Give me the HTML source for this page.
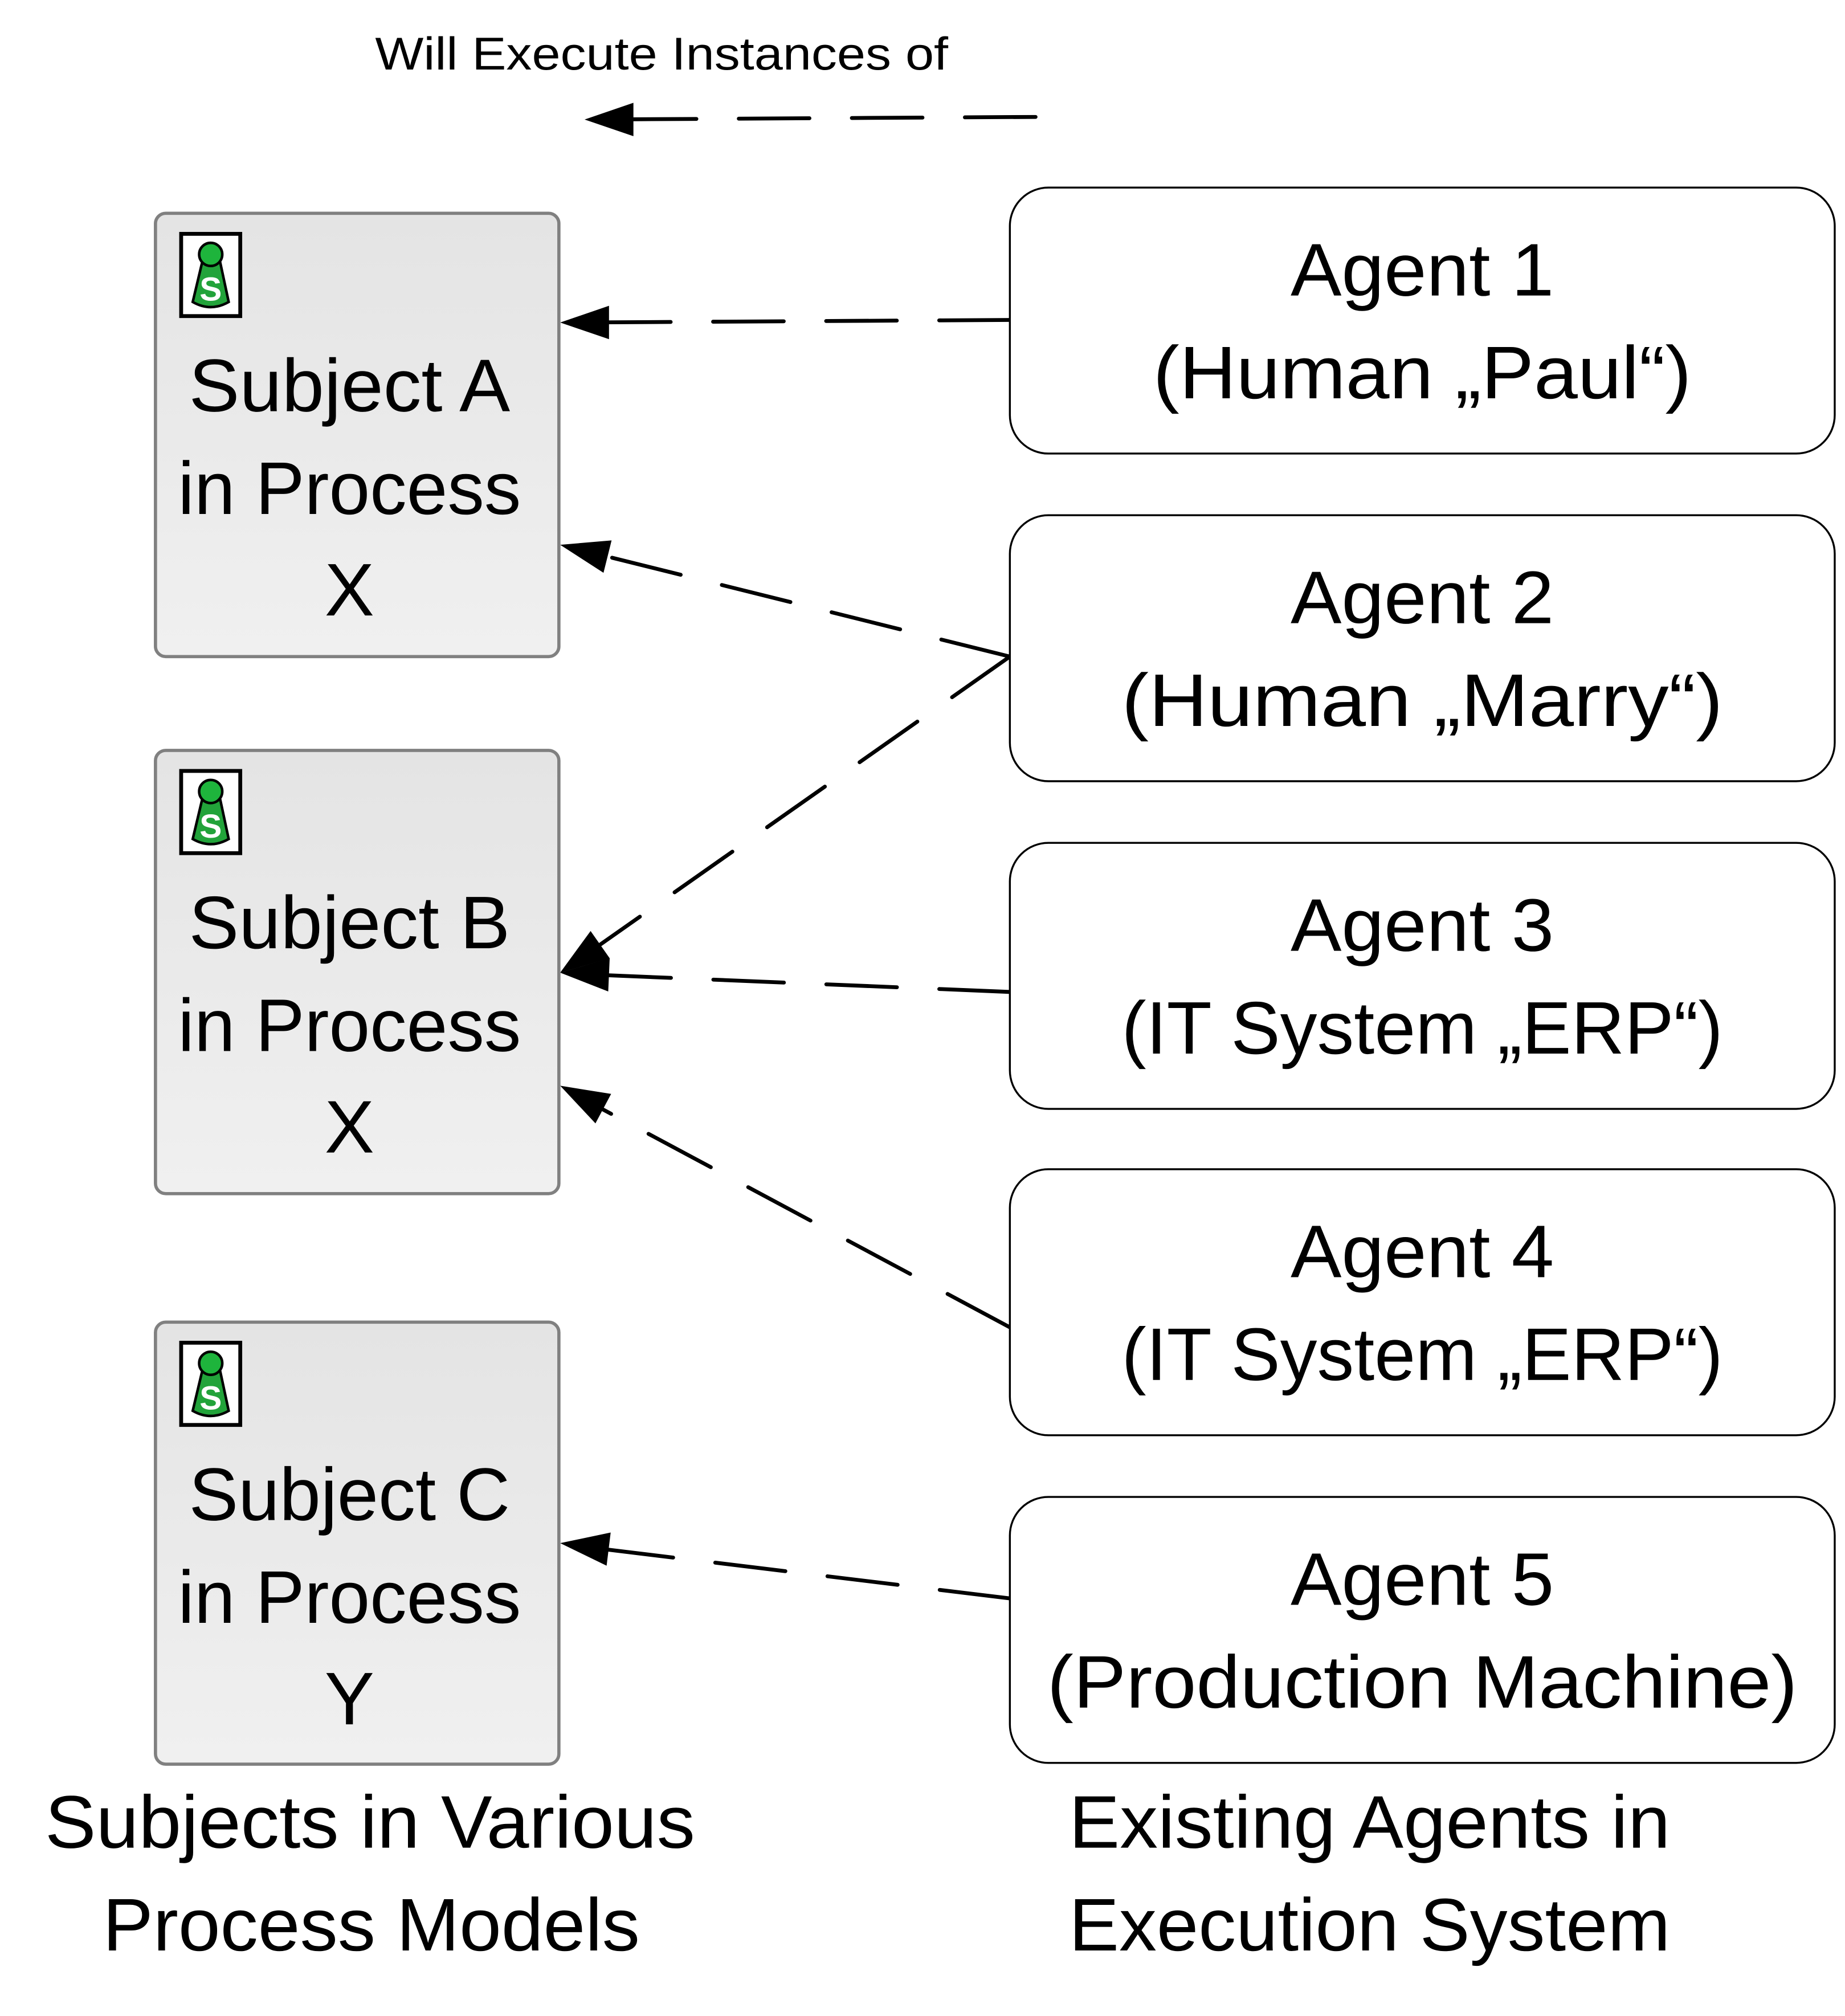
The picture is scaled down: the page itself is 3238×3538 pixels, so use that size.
<!DOCTYPE html>
<html><head><meta charset="utf-8"><style>html,body{margin:0;padding:0;background:#fff}svg{display:block}</style></head>
<body>
<svg width="3238" height="3538" viewBox="0 0 1436 1569" preserveAspectRatio="none" xmlns="http://www.w3.org/2000/svg" font-family="Liberation Sans, sans-serif">
<defs>
<linearGradient id="g" x1="0" y1="0" x2="0" y2="1"><stop offset="0" stop-color="#e4e4e4"/><stop offset="1" stop-color="#f0f0f0"/></linearGradient>
<marker id="ah" markerWidth="12" markerHeight="10" refX="11" refY="5" orient="auto" markerUnits="userSpaceOnUse" viewBox="0 0 12 10"><path d="M0,0 L12,5 L0,10 z" fill="#000"/></marker>
<g id="icon">
<rect x="0" y="0" width="46" height="64" fill="#fff" stroke="#000" stroke-width="3"/>
<path d="M19,20 L9,62 Q23,70 37,62 L28,20 z" transform="translate(0,-9)" fill="#22a33a" stroke="#000" stroke-width="2"/>
<circle cx="23" cy="16" r="9" fill="#1eb43c" stroke="#000" stroke-width="2"/>
<text x="23" y="52" font-size="26" font-weight="bold" fill="#fff" text-anchor="middle">S</text>
</g>
</defs>
<text x="515" y="54" font-size="36" text-anchor="middle" textLength="446" lengthAdjust="spacingAndGlyphs">Will Execute Instances of</text>
<g stroke="#000" stroke-width="3" stroke-dasharray="55 33" fill="none" stroke-linecap="round">
<line x1="806" y1="91" x2="466" y2="93"/>
<line x1="786" y1="249" x2="448" y2="251"/>
<line x1="786" y1="511" x2="448" y2="427"/>
<line x1="786" y1="511" x2="446" y2="750"/>
<line x1="786" y1="772" x2="448" y2="758"/>
<line x1="786" y1="1033" x2="446" y2="851"/>
<line x1="786" y1="1244" x2="448" y2="1203"/>
</g>
<g fill="#000">
<path d="M455,93 L493,80 L493,106 z"/>
<path d="M436,251 L474,238 L474,264 z"/>
<path transform="rotate(14 436 424)" d="M436,424 L474,411 L474,437 z"/>
<path transform="rotate(-35 436 757)" d="M436,757 L474,744 L474,770 z"/>
<path transform="rotate(2.5 436 757)" d="M436,757 L474,744 L474,770 z"/>
<path transform="rotate(28 436 845)" d="M436,845 L474,832 L474,858 z"/>
<path transform="rotate(7 436 1201)" d="M436,1201 L474,1188 L474,1214 z"/>
</g>
<g fill="url(#g)" stroke="#808080" stroke-width="2.5">
<rect x="121" y="166" width="314" height="345" rx="8"/>
<rect x="121" y="584" width="314" height="345" rx="8"/>
<rect x="121" y="1029" width="314" height="344" rx="8"/>
</g>
<use href="#icon" x="141" y="182"/>
<use href="#icon" x="141" y="600"/>
<use href="#icon" x="141" y="1045"/>
<g font-size="58" text-anchor="middle" fill="#000">
<text x="272" y="320" textLength="250" lengthAdjust="spacingAndGlyphs">Subject A</text>
<text x="272" y="400" textLength="267" lengthAdjust="spacingAndGlyphs">in Process</text>
<text x="272" y="479">X</text>
<text x="272" y="738" textLength="250" lengthAdjust="spacingAndGlyphs">Subject B</text>
<text x="272" y="818" textLength="267" lengthAdjust="spacingAndGlyphs">in Process</text>
<text x="272" y="897">X</text>
<text x="272" y="1183" textLength="250" lengthAdjust="spacingAndGlyphs">Subject C</text>
<text x="272" y="1263" textLength="267" lengthAdjust="spacingAndGlyphs">in Process</text>
<text x="272" y="1342">Y</text>
</g>
<g fill="#fff" stroke="#000" stroke-width="1.5">
<rect x="786" y="146" width="642" height="207" rx="30"/>
<rect x="786" y="401" width="642" height="207" rx="30"/>
<rect x="786" y="656" width="642" height="207" rx="30"/>
<rect x="786" y="910" width="642" height="207" rx="30"/>
<rect x="786" y="1165" width="642" height="207" rx="30"/>
</g>
<g font-size="58" text-anchor="middle" fill="#000">
<text x="1107" y="230" textLength="205" lengthAdjust="spacingAndGlyphs">Agent 1</text>
<text x="1107" y="310" textLength="419" lengthAdjust="spacingAndGlyphs">(Human „Paul“)</text>
<text x="1107" y="485" textLength="205" lengthAdjust="spacingAndGlyphs">Agent 2</text>
<text x="1107" y="565" textLength="468" lengthAdjust="spacingAndGlyphs">(Human „Marry“)</text>
<text x="1107" y="740" textLength="205" lengthAdjust="spacingAndGlyphs">Agent 3</text>
<text x="1107" y="820" textLength="468" lengthAdjust="spacingAndGlyphs">(IT System „ERP“)</text>
<text x="1107" y="994" textLength="205" lengthAdjust="spacingAndGlyphs">Agent 4</text>
<text x="1107" y="1074" textLength="468" lengthAdjust="spacingAndGlyphs">(IT System „ERP“)</text>
<text x="1107" y="1249" textLength="205" lengthAdjust="spacingAndGlyphs">Agent 5</text>
<text x="1107" y="1329" textLength="584" lengthAdjust="spacingAndGlyphs">(Production Machine)</text>
<text x="288" y="1438" textLength="506" lengthAdjust="spacingAndGlyphs">Subjects in Various</text>
<text x="289" y="1518" textLength="418" lengthAdjust="spacingAndGlyphs">Process Models</text>
<text x="1066" y="1438" textLength="468" lengthAdjust="spacingAndGlyphs">Existing Agents in</text>
<text x="1066" y="1518" textLength="468" lengthAdjust="spacingAndGlyphs">Execution System</text>
</g>
</svg>
</body></html>
